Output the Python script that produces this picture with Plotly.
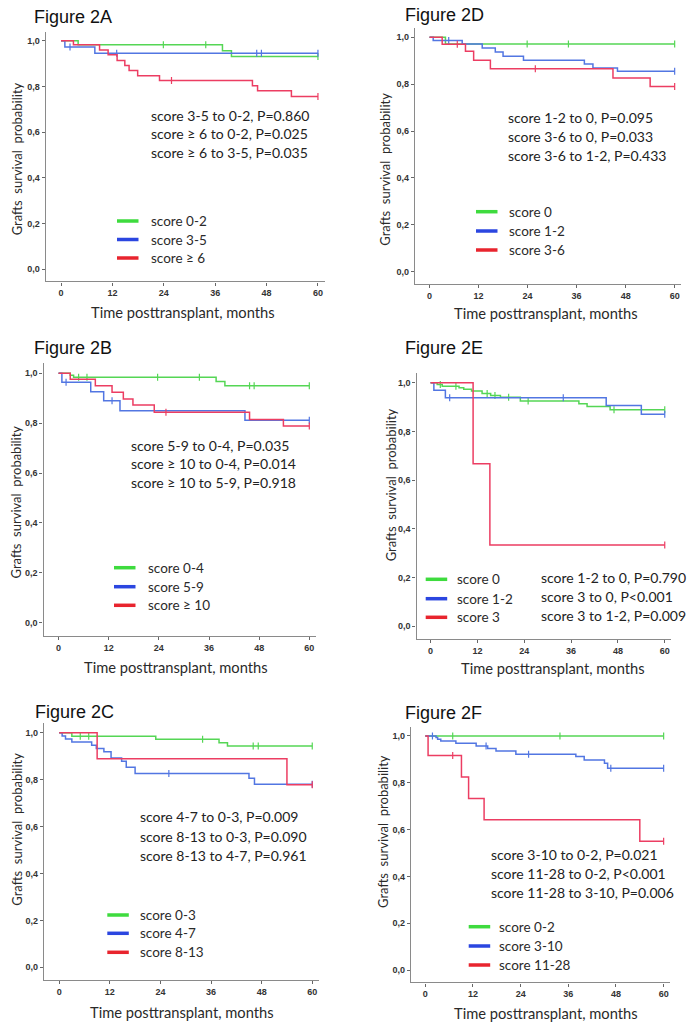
import plotly.graph_objects as go

# ---------------- data ----------------
MONTH_TICKS = [0, 12, 24, 36, 48, 60]
PROB_TICKS = [0.0, 0.2, 0.4, 0.6, 0.8, 1.0]
PROB_LABELS = ["0,0", "0,2", "0,4", "0,6", "0,8", "1,0"]

# Figure 2A
a_labels = ["score 0-2", "score 3-5", "score \u2265 6"]
a_green_t = [4.0, 37.7, 39.8]
a_green_s = [0.982, 0.956, 0.931]
a_green_c = [23.9, 33.8, 60]
a_blue_t = [0.9, 7.9]
a_blue_s = [0.973, 0.945]
a_blue_c = [2.1, 13.0, 45.7, 46.8, 60]
a_red_t = [2.9, 9.0, 11.0, 13.1, 14.9, 15.9, 17.9, 23.0, 44.7, 45.9, 53.8]
a_red_s = [0.982, 0.960, 0.939, 0.914, 0.892, 0.870, 0.847, 0.826, 0.803, 0.781, 0.756]
a_red_c = [25.8, 60]
a_stats = ["score 3-5 to 0-2, P=0.860", "score \u2265 6 to 0-2, P=0.025", "score \u2265 6 to 3-5, P=0.035"]

# Figure 2D
d_labels = ["score 0", "score 1-2", "score 3-6"]
d_green_t = [3.9]
d_green_s = [0.971]
d_green_c = [23.9, 34.0, 60]
d_blue_t = [0.9, 8.0, 12.9, 16.1, 18.0, 23.0, 37.9, 40.0, 46.0]
d_blue_s = [0.986, 0.971, 0.954, 0.937, 0.919, 0.902, 0.886, 0.869, 0.855]
d_blue_c = [4.7, 60]
d_red_t = [3.1, 8.8, 10.8, 14.9, 44.9, 54.0]
d_red_s = [0.970, 0.940, 0.902, 0.866, 0.826, 0.790]
d_red_c = [6.8, 25.9, 60]
d_stats = ["score 1-2 to 0, P=0.095", "score 3-6 to 0, P=0.033", "score 3-6 to 1-2, P=0.433"]

# Figure 2B
b_labels = ["score 0-4", "score 5-9", "score \u2265 10"]
b_green_t = [2.8, 3.6, 37.7, 39.8]
b_green_s = [0.992, 0.984, 0.967, 0.950]
b_green_c = [4.8, 6.8, 23.7, 33.7, 45.7, 46.8, 60]
b_blue_t = [0.8, 7.7, 10.8, 14.7, 44.6]
b_blue_s = [0.964, 0.926, 0.890, 0.850, 0.812]
b_blue_c = [1.8, 12.8, 60]
b_red_t = [2.8, 8.8, 12.8, 15.5, 17.8, 22.9, 45.7, 53.8]
b_red_s = [0.976, 0.950, 0.924, 0.897, 0.873, 0.844, 0.815, 0.789]
b_red_c = [25.7, 60]
b_stats = ["score 5-9 to 0-4, P=0.035", "score \u2265 10 to 0-4, P=0.014", "score \u2265 10 to 5-9, P=0.918"]

# Figure 2E
e_labels = ["score 0", "score 1-2", "score 3"]
e_green_t = [1.7, 3.0, 7.3, 8.5, 10.5, 13.2, 15.4, 17.9, 23.0, 38.0, 40.1, 46.0]
e_green_s = [0.993, 0.986, 0.979, 0.973, 0.966, 0.956, 0.948, 0.940, 0.925, 0.914, 0.902, 0.889]
e_green_c = [2.5, 6.5, 14.5, 16.5, 20.0, 25.0, 47.0, 60]
e_blue_t = [0.85, 3.8, 45.0, 54.0]
e_blue_s = [0.969, 0.938, 0.906, 0.870]
e_blue_c = [4.9, 34.0, 60]
e_red_t = [10.9, 15.2]
e_red_s = [0.667, 0.333]
e_red_c = [60]
e_stats = ["score 1-2 to 0, P=0.790", "score 3 to 0, P<0.001", "score 3 to 1-2, P=0.009"]

# Figure 2C
c_labels = ["score 0-3", "score 4-7", "score 8-13"]
c_green_t = [3.0, 22.9, 37.9, 39.9]
c_green_s = [0.985, 0.972, 0.957, 0.943]
c_green_c = [5.0, 7.0, 34.0, 46.0, 47.2, 60]
c_blue_t = [0.7, 1.5, 3.0, 7.7, 8.8, 10.6, 12.3, 14.8, 15.9, 18.0, 45.0, 46.3]
c_blue_s = [0.986, 0.973, 0.960, 0.946, 0.933, 0.919, 0.892, 0.878, 0.853, 0.826, 0.806, 0.780]
c_blue_c = [26.0, 60]
c_red_t = [9.0, 54.0]
c_red_s = [0.889, 0.778]
c_red_c = [60]
c_stats = ["score 4-7 to 0-3, P=0.009", "score 8-13 to 0-3, P=0.090", "score 8-13 to 4-7, P=0.961"]

# Figure 2F
f_labels = ["score 0-2", "score 3-10", "score 11-28"]
f_green_t = []
f_green_s = []
f_green_c = [6.9, 33.9, 60]
f_blue_t = [2.7, 3.1, 3.9, 7.7, 12.8, 15.7, 17.8, 22.8, 37.9, 40.0, 45.1, 45.9]
f_blue_s = [0.993, 0.986, 0.979, 0.969, 0.957, 0.946, 0.936, 0.922, 0.912, 0.897, 0.883, 0.862]
f_blue_c = [1.8, 15.3, 26.0, 46.7, 60]
f_red_t = [0.7, 9.1, 10.9, 14.8, 54.0]
f_red_s = [0.917, 0.825, 0.733, 0.642, 0.550]
f_red_c = [6.9, 60]
f_stats = ["score 3-10 to 0-2, P=0.021", "score 11-28 to 0-2, P<0.001", "score 11-28 to 3-10, P=0.006"]

# ---------------- layout / style ----------------
W, H = 696, 1024
XR = [-3.6, 61.6]
YR = [-0.053, 1.04]
CURVE_COLORS = ["#55d655", "#5276e2", "#ec3d62"]
LEGEND_COLORS = ["#3edb3e", "#2b46e0", "#e8242e"]
TXT = "Lato, 'Open Sans', sans-serif"
TICKFONT = dict(family="'Liberation Sans Narrow', 'Liberation Sans', Arial", size=9, color="#333333", weight="bold")

panels = [
    dict(name="Figure 2A", box=(45.6, 324.8, 31.6, 281.4), title=(32, 17),
         data=[(a_green_t, a_green_s, a_green_c), (a_blue_t, a_blue_s, a_blue_c), (a_red_t, a_red_s, a_red_c)],
         labels=a_labels, stats=a_stats, stat_pos=(149, [115, 133.5, 152]),
         leg=(117, 149, [221, 239.5, 258]), ytitle=(17.3, 159), xtitle=(183.3, 312)),
    dict(name="Figure 2D", box=(414.8, 681.2, 27.9, 284.1), title=(403, 15),
         data=[(d_green_t, d_green_s, d_green_c), (d_blue_t, d_blue_s, d_blue_c), (d_red_t, d_red_s, d_red_c)],
         labels=d_labels, stats=d_stats, stat_pos=(506.3, [117.3, 136, 155]),
         leg=(476, 507.3, [211.7, 231, 250]), ytitle=(384.7, 169), xtitle=(546.3, 313.3)),
    dict(name="Figure 2B", box=(43.5, 316, 363.3, 635.9), title=(32, 348),
         data=[(b_green_t, b_green_s, b_green_c), (b_blue_t, b_blue_s, b_blue_c), (b_red_t, b_red_s, b_red_c)],
         labels=b_labels, stats=b_stats, stat_pos=(129.3, [445, 463.5, 482.3]),
         leg=(114, 145.7, [567.7, 586.7, 605.3]), ytitle=(15, 502.5), xtitle=(175.8, 666.7)),
    dict(name="Figure 2E", box=(416.5, 671, 373, 638.9), title=(403, 348),
         data=[(e_green_t, e_green_s, e_green_c), (e_blue_t, e_blue_s, e_blue_c), (e_red_t, e_red_s, e_red_c)],
         labels=e_labels, stats=e_stats, stat_pos=(538.7, [577.3, 596.7, 615]),
         leg=(425.7, 455.3, [579.3, 598.7, 617.3]), ytitle=(391.3, 485), xtitle=(553, 668.3)),
    dict(name="Figure 2C", box=(44, 319, 723.3, 979.7), title=(33, 711.7),
         data=[(c_green_t, c_green_s, c_green_c), (c_blue_t, c_blue_s, c_blue_c), (c_red_t, c_red_s, c_red_c)],
         labels=c_labels, stats=c_stats, stat_pos=(137.7, [816.7, 836, 855]),
         leg=(107.3, 137.7, [915, 933.3, 952.3]), ytitle=(16.7, 829), xtitle=(181.7, 1011.7)),
    dict(name="Figure 2F", box=(411, 670, 726.6, 982.4), title=(403, 713),
         data=[(f_green_t, f_green_s, f_green_c), (f_blue_t, f_blue_s, f_blue_c), (f_red_t, f_red_s, f_red_c)],
         labels=f_labels, stats=f_stats, stat_pos=(488.7, [854.3, 873.3, 892.3]),
         leg=(468.7, 497, [926.7, 946, 965]), ytitle=(383, 832), xtitle=(546.3, 1012.7)),
]


def px(x):
    return x / W


def py(y):
    return 1 - y / H


def surv_at(t, times, surv):
    v = 1.0
    for ti, si in zip(times, surv):
        if ti <= t:
            v = si
    return v


fig = go.Figure()
layout = dict(width=W, height=H, margin=dict(l=0, r=0, t=0, b=0),
              paper_bgcolor="white", plot_bgcolor="white", hovermode=False,
              showlegend=False, annotations=[], shapes=[], font=dict(family=TXT))

for i, p in enumerate(panels):
    n = i + 1
    xa = "xaxis" if n == 1 else f"xaxis{n}"
    ya = "yaxis" if n == 1 else f"yaxis{n}"
    xref = "x" if n == 1 else f"x{n}"
    yref = "y" if n == 1 else f"y{n}"
    left, right, top, bottom = p["box"]
    layout[xa] = dict(domain=[px(left), px(right)], range=XR, anchor=yref,
                      showline=True, linecolor="#8a8a8a", linewidth=1.2,
                      ticks="outside", ticklen=3, tickcolor="#666", tickwidth=1,
                      tickvals=MONTH_TICKS, tickfont=TICKFONT,
                      showgrid=False, zeroline=False, fixedrange=True)
    layout[ya] = dict(domain=[py(bottom), py(top)], range=YR, anchor=xref,
                      showline=True, linecolor="#8a8a8a", linewidth=1.2,
                      ticks="outside", ticklen=3, tickcolor="#666", tickwidth=1,
                      tickvals=PROB_TICKS, ticktext=PROB_LABELS, tickfont=TICKFONT,
                      showgrid=False, zeroline=False, fixedrange=True)
    for (times, surv, cens), col, lab in zip(p["data"], CURVE_COLORS, p["labels"]):
        end = max([60] + list(times))
        xs = [0] + list(times) + [end]
        ys = [1.0] + list(surv) + [surv[-1] if surv else 1.0]
        fig.add_trace(go.Scatter(x=xs, y=ys, mode="lines", name=lab,
                                 line=dict(shape="hv", color=col, width=1.5),
                                 xaxis=xref, yaxis=yref, showlegend=False))
        fig.add_trace(go.Scatter(x=cens, y=[surv_at(c, times, surv) for c in cens], mode="markers",
                                 name=lab + " censored",
                                 marker=dict(symbol="line-ns", size=5, line=dict(color=col, width=1.2)),
                                 xaxis=xref, yaxis=yref, showlegend=False))
    # legend (line sample + label) per panel
    lx0, ltx, lys = p["leg"]
    for lab, lcol, yy in zip(p["labels"], LEGEND_COLORS, lys):
        layout["shapes"].append(dict(type="line", xref="paper", yref="paper",
                                     x0=px(lx0), x1=px(lx0 + 21.5), y0=py(yy), y1=py(yy),
                                     line=dict(color=lcol, width=3.5)))
        layout["annotations"].append(dict(text=lab, x=px(ltx), y=py(yy), xref="paper", yref="paper",
                                          xanchor="left", yanchor="middle", showarrow=False,
                                          font=dict(family=TXT, size=13.5, color="#2a2a2a")))
    # panel title
    tx, ty = p["title"]
    layout["annotations"].append(dict(text=p["name"], x=px(tx), y=py(ty), xref="paper", yref="paper",
                                      xanchor="left", yanchor="middle", showarrow=False,
                                      font=dict(family="'Liberation Sans', Arial", size=18, color="#111")))
    # stats text
    sx, sys_ = p["stat_pos"]
    for txt, yy in zip(p["stats"], sys_):
        layout["annotations"].append(dict(text=txt, x=px(sx), y=py(yy), xref="paper", yref="paper",
                                          xanchor="left", yanchor="middle", showarrow=False,
                                          font=dict(family=TXT, size=14, color="#222")))
    # axis titles
    yx, yy = p["ytitle"]
    layout["annotations"].append(dict(text="Grafts\u00a0 survival\u00a0 probability", x=px(yx), y=py(yy),
                                      xref="paper", yref="paper", xanchor="center", yanchor="middle",
                                      textangle=-90, showarrow=False,
                                      font=dict(family=TXT, size=13, color="#2a2a2a")))
    xx, xy = p["xtitle"]
    layout["annotations"].append(dict(text="Time posttransplant, months", x=px(xx), y=py(xy),
                                      xref="paper", yref="paper", xanchor="center", yanchor="middle",
                                      showarrow=False, font=dict(family=TXT, size=14.7, color="#2a2a2a")))

fig.update_layout(**layout)
fig.write_html("out.html")
